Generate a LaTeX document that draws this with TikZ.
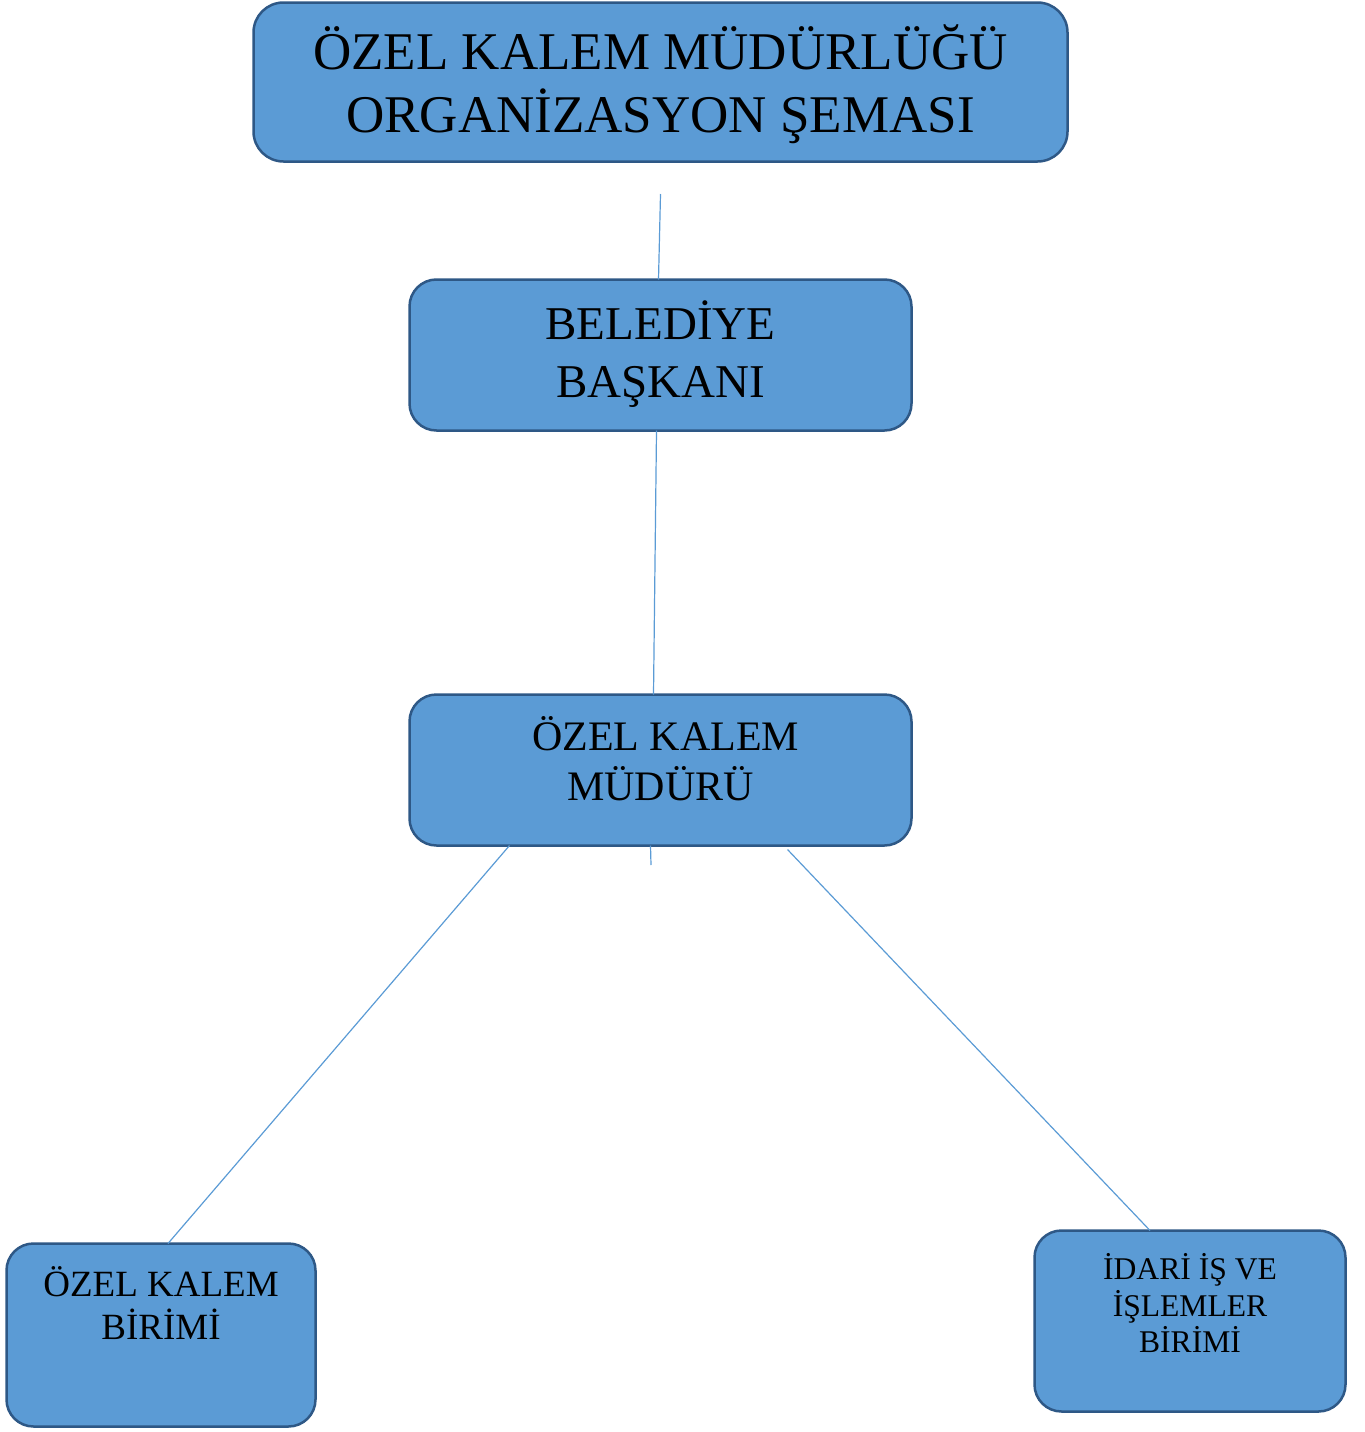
\documentclass[tikz,border=0pt]{standalone}
\usepackage{fontspec}
\setmainfont{Liberation Serif}
\usetikzlibrary{calc}
\definecolor{kutumavi}{RGB}{91,155,213}
\definecolor{kenarmavi}{RGB}{46,88,134}

\begin{document}
\begin{tikzpicture}[x=1pt,y=-1pt,
    kutu/.style={draw=kenarmavi, fill=kutumavi, line width=2.5pt, rounded corners=27pt, inner sep=0pt, outer sep=0pt},
    yazi/.style={align=center, inner sep=0pt, text=black},
    cizgi/.style={draw=kutumavi, line width=1.2pt}] %[scale=0.8]
      \useasboundingbox (0,0) rectangle (1365,1432);
      \node[kutu, minimum width=814pt, minimum height=159pt, rounded corners=30pt] (baslik) at (660.5,82) {};
      \node[kutu, minimum width=502pt, minimum height=151pt] (bel) at (660.5,355) {};
      \node[kutu, minimum width=502pt, minimum height=151pt] (mud) at (660.5,770) {};
      \node[kutu, minimum width=309pt, minimum height=183pt] (ozb) at (161,1335) {};
      \node[kutu, minimum width=311pt, minimum height=181pt] (idr) at (1190,1321) {};
      \node[yazi, font={\fontsize{53}{63}\selectfont}] (baslikyazi) at (660.5,84) {ÖZEL KALEM MÜDÜRLÜĞÜ\\ORGANİZASYON ŞEMASI};
      \node[yazi, font={\fontsize{47}{58}\selectfont}] (belyazi) at (660.5,354.5) {BELEDİYE\\BAŞKANI};
      \node[yazi, font={\fontsize{42}{50}\selectfont}] (mudyazi) at (660.5,758.5) {~ÖZEL KALEM\\MÜDÜRÜ};
      \node[yazi, font={\fontsize{37}{43}\selectfont}] (ozbyazi) at (161,1303) {ÖZEL KALEM\\BİRİMİ};
      \node[yazi, font={\fontsize{31.6}{36.5}\selectfont}] (idryazi) at (1190,1303) {İDARİ İŞ VE\\İŞLEMLER\\BİRİMİ};
      \coordinate (ust) at (660.5,194);
      \coordinate (alt) at (651,865);
      \draw [cizgi] (ust) -- ([xshift=-2pt]bel.north);
      \draw [cizgi] ([xshift=-4pt]bel.south) -- ([xshift=-7pt]mud.north);
      \draw [cizgi] ([xshift=-10pt]mud.south) -- (alt);
      \draw [cizgi] ([xshift=-151pt]mud.south) -- ([xshift=7pt]ozb.north);
      \draw [cizgi] ([xshift=127pt,yshift=-4pt]mud.south) -- ([xshift=-40pt]idr.north);
    \end{tikzpicture}
\end{document}
